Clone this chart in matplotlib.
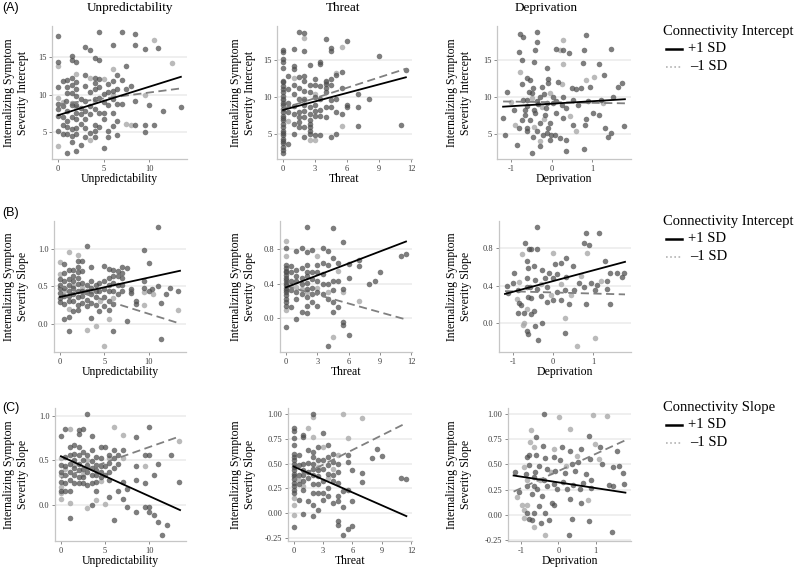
import matplotlib
matplotlib.use("Agg")
import matplotlib.pyplot as plt
from matplotlib.lines import Line2D
from matplotlib.ticker import FixedLocator, FormatStrFormatter

plt.rcParams["font.family"] = ["Liberation Serif", "DejaVu Serif"]
plt.rcParams["axes.unicode_minus"] = False

# ---------------------------------------------------------------------------
# data: (x, y) points, darker and lighter points, and
# the simple-slope lines (+1 SD solid, -1 SD dashed) as end points
# ---------------------------------------------------------------------------
COLUMNS = ["Unpredictability", "Threat", "Deprivation"]
ROW_LETTERS = ["(A)", "(B)", "(C)"]
ROW_YLABELS = ["Internalizing Symptom\nSeverity Intercept",
               "Internalizing Symptom\nSeverity Slope",
               "Internalizing Symptom\nSeverity Slope"]
LEGEND_TITLES = ["Connectivity Intercept", "Connectivity Intercept", "Connectivity Slope"]
LEGEND_LABELS = ["+1 SD", "\u20131 SD"]

# row A - intercept
A1_PTS = [(0, 17.85), (0, 14.4), (0, 11), (0, 8.7), (0, 8.1), (0, 7.2), (0, 5.2),
          (0.5, 11.8), (0.5, 8.5), (0.5, 7), (0.5, 6), (0.5, 4.7),
          (0.9, 9.2), (1, 12), (1, 11), (1, 10.2), (1, 7.8), (1, 6.5), (1, 5.7), (1, 4.8), (1, 2.2),
          (1.5, 15.2), (1.5, 14.6), (1.5, 12.3), (1.5, 11.3), (1.5, 10.2), (1.5, 8.6), (1.5, 7),
          (1.5, 5.4), (1.5, 4.5), (1.5, 3.7),
          (2, 14.4), (2, 11.7), (2, 10.8), (2, 9.8), (2, 8.6), (2, 7.6), (2, 6.7), (2, 5.6), (2, 4.7), (2, 2.5),
          (2.5, 9.4), (2.5, 8.2), (2.5, 7.4), (2.5, 6.1), (2.5, 3.2),
          (3, 16.4), (3, 12.6), (3, 11.2), (3, 9.1), (3, 7.8), (3, 6.7), (3, 5.5), (3, 4.4),
          (3.5, 16), (3.5, 10.3), (3.5, 8.5), (3.5, 7.4), (3.5, 4.9),
          (4, 14.9), (4, 12.3), (4, 11.6), (4, 10.8), (4, 9.4), (4, 8.1), (4, 6), (4, 5.2), (4, 4.4),
          (4.5, 18.4), (4.5, 14.6), (4.5, 12.1), (4.5, 11), (4.5, 9.6), (4.5, 7.6), (4.5, 5.7),
          (5, 10.1), (5, 9), (5, 7.6), (5, 6.7), (5, 2.8),
          (5.5, 11.4), (5.5, 10.3), (5.5, 8.6), (5.5, 5.2), (5.5, 4.4),
          (6, 16.6), (6, 11.9), (6, 10.5), (6, 9.4), (6, 7.6), (6, 5.8),
          (6.5, 12.6), (6.5, 10.8), (6.5, 8.7), (6.5, 6.5), (6.5, 4.6),
          (7, 18.4), (7, 12), (7, 8.7), (7.5, 13.9), (7.5, 10.8), (8, 11.2),
          (8.5, 18.2), (8.5, 16.6), (8.5, 9.2), (8.5, 6),
          (9.5, 16.1), (9.5, 5.9), (9.5, 5), (10, 8.6), (10.5, 5.9), (11, 16.2), (11.5, 7.8), (13.5, 8.3)]
A1_LIGHT = [(0, 13.8), (0, 9.6), (0, 3.1), (0.5, 9.0), (1.5, 8.9), (2, 12.8), (2, 8.3), (3.5, 12.3),
            (3.5, 3.9), (4, 9.2), (5, 12.1), (6, 13.4), (6, 10), (7.5, 6.1), (8, 6), (9.5, 9.9),
            (10.5, 17.3), (12.5, 14.3)]
A1_LINE_X = [0, 13.5]
A1_HI = [7.25, 12.4]
A1_LO = [8.7, 10.85]

A2_PTS = [(0, 16.4), (0, 16.1), (0, 15.1), (0, 14.7), (0, 14), (0, 12.2), (0, 12), (0, 11.5), (0, 11.1),
          (0, 10.7), (0, 10.2), (0, 9.8), (0, 9.3), (0, 9), (0, 8.4), (0, 8), (0, 7.5), (0, 7.2), (0, 6.9),
          (0, 6.4), (0, 6), (0, 5.5), (0, 5.2), (0, 4.9), (0, 4.4), (0, 4.1), (0, 3.8), (0, 3.3), (0, 2.9),
          (0, 2.5),
          (0.5, 12.9), (0.5, 11.1), (0.5, 9.3), (0.5, 8), (0.5, 3.7),
          (1, 16.5), (1, 14.2), (1, 13.8), (1, 11.7), (1, 10.4), (1, 8.8), (1, 7.8), (1, 6.4), (1, 5),
          (1.5, 18.8), (1.5, 12.7), (1.5, 11.3), (1.5, 9.8), (1.5, 8), (1.5, 7.3), (1.5, 6.7), (1.5, 6),
          (2, 18.7), (2, 16.3), (2, 12.9), (2, 12.2), (2, 10.9), (2, 9.8), (2, 8.9), (2, 8.2), (2, 7.3),
          (2, 6), (2, 4.6),
          (2.5, 14.3), (2.5, 11.7), (2.5, 10.7), (2.5, 8.7), (2.5, 7.8), (2.5, 6.9), (2.5, 6.4), (2.5, 6),
          (2.5, 5.5), (2.5, 5.1),
          (3, 12.5), (3, 11.6), (3, 10), (3, 8.9), (3, 8.2), (3, 7.5), (3, 4.9),
          (3.5, 14.8), (3.5, 14.5), (3.5, 11.5), (3.5, 9.8), (3.5, 8.3), (3.5, 7.5), (3.5, 4.9),
          (4, 17.8), (4, 12.2), (4, 11.8), (4, 11.2), (4, 10.7), (4, 8.7), (4, 7.3),
          (4.5, 16.6), (4.5, 16.3), (4.5, 12.5), (4.5, 11.7), (4.5, 9.6), (4.5, 8.7), (4.5, 4.7),
          (5, 13), (5, 9.8), (5, 8), (5, 5),
          (5.5, 13.4), (5.5, 11.3), (5.5, 7.8),
          (6, 17.6), (6, 9), (6, 8.7),
          (7, 10.4), (7, 8.7), (7, 6.2), (8, 9.8), (9, 15.6), (11, 6.3), (11.5, 13.7)]
A2_LIGHT = [(2, 18), (0, 9.6), (0.5, 6.8), (1, 12.6), (2, 9.5), (3, 10.5), (4, 12.0), (5, 13.3),
            (5.5, 16.8), (5.5, 6.2), (2.5, 4.2), (3, 4.2)]
A2_LINE_X = [0, 11.5]
A2_HI = [8.3, 12.7]
A2_LO = [8.5, 13.85]

A3_PTS = [(-1.19, 7.2), (-1.16, 4.9), (-1.1, 10.7), (-0.94, 8.3), (-0.86, 3.5), (-0.82, 5.8), (-0.82, 16),
          (-0.78, 18.5), (-0.7, 18.1), (-0.74, 14.9), (-0.74, 11.8), (-0.7, 9.6), (-0.66, 7.6), (-0.74, 6.9),
          (-0.6, 5.4), (-0.6, 12.5), (-0.57, 10.7),
          (-0.37, 18.7), (-0.37, 17.4), (-0.41, 16.3), (-0.43, 14.7), (-0.13, 13.9), (-0.09, 12.4),
          (-0.09, 11.9), (-0.54, 12.3), (-0.46, 11.2), (-0.29, 10), (0.03, 10), (-0.62, 9.6), (-0.37, 9.4),
          (-0.13, 9.2), (0.11, 9.4), (-0.66, 8.3), (-0.41, 7.8), (-0.17, 7.6), (0.11, 7.8), (-0.54, 6.9),
          (-0.29, 6.5), (-0.05, 6.5), (-0.62, 5.8), (-0.37, 5.4), (-0.13, 5.2), (0.07, 4.9), (-0.46, 4.7),
          (-0.21, 4.9), (-0.29, 3.4), (-0.5, 2.5),
          (-0.5, 10.5), (-0.35, 9.0), (-0.2, 10.4), (-0.6, 8.8), (-0.25, 11.3), (-0.45, 8.2), (-0.15, 8.5),
          (0.11, 16.4), (0.28, 16.3), (0.42, 15.9), (0.8, 16.3), (0.85, 18.3), (1.46, 16.4), (0.76, 14.6),
          (1.15, 14.4), (0.15, 12), (0.5, 11.2), (0.6, 11.1), (0.73, 11.2), (0.93, 11.4), (1.29, 12.9),
          (1.62, 11.4), (1.74, 11.9), (0.28, 10), (0.52, 9.6), (0.89, 9.4), (1.21, 9.6), (1.5, 10),
          (0.24, 8.9), (0.36, 8.5), (0.65, 8.9), (1.01, 7.8), (1.17, 7.6), (0.28, 7.2), (0.52, 6.3),
          (0.85, 7.1), (0.81, 6.3), (1.32, 5.8), (1.46, 5.2), (1.38, 4.7), (1.78, 6.1), (0.2, 4.5),
          (0.36, 4.2), (-0.05, 4.3), (-0.01, 4.9), (0.8, 3.0), (0.36, 2.7), (-0.09, 5.8), (0.03, 9.2)]
A3_LIGHT = [(-0.78, 13.4), (0.28, 17.7), (0.2, 16.3), (0.28, 14.4), (0.24, 11.8), (0.85, 12.3),
            (1.05, 12.7), (-0.5, 9.8), (-0.25, 8.7), (-0.05, 10.6), (-0.45, 6.0), (-0.2, 7.1), (0.45, 7.4),
            (1.25, 9.2), (-1.0, 9.3), (-0.9, 6.3), (0.6, 5.4), (-0.3, 4.1)]
A3_LINE_X = [-1.2, 1.8]
A3_HI = [8.7, 9.7]
A3_LO = [9.4, 9.15]

# row B - slope, connectivity intercept moderator
B1_PTS = [(0, 0.59), (0, 0.52), (0, 0.47), (0, 0.41), (0, 0.34), (0, 0.29),
          (0.5, 0.79), (0.5, 0.67), (0.5, 0.57), (0.5, 0.48), (0.5, 0.37), (0.5, 0.26), (0.5, 0.06),
          (1, 0.71), (1, 0.6), (1, 0.52), (1, 0.44), (1, 0.37), (1, 0.3), (1, 0.09), (1, -0.1),
          (1.5, 0.72), (1.5, 0.64), (1.5, 0.57), (1.5, 0.48), (1.5, 0.39), (1.5, 0.3), (1.5, 0.17),
          (2, 0.84), (2, 0.75), (2, 0.69), (2, 0.61), (2, 0.53), (2, 0.44), (2, 0.35), (2, 0.25), (2, 0.18),
          (2.5, 0.84), (2.5, 0.7), (2.5, 0.54), (2.5, 0.44), (2.5, 0.37), (2.5, 0.28),
          (3, 1.03), (3, 0.52), (3, 0.43), (3, 0.32), (3, 0.24),
          (3.5, 0.75), (3.5, 0.57), (3.5, 0.48), (3.5, 0.39), (3.5, 0.28), (3.5, 0.08),
          (4, 0.52), (4, 0.44), (4, 0.36), (4, 0.25),
          (4.4, 0.54), (4.4, 0.43), (4.4, 0.17),
          (5, 0.77), (5, 0.57), (5, 0.46), (5, 0.35), (5, 0.24),
          (5.5, 0.73), (5.5, 0.61), (5.5, 0.52), (5.5, 0.43), (5.5, 0.3), (5.5, 0.18),
          (6, 0.72), (6, 0.63), (6, 0.54), (6, 0.43), (6, 0.26), (6, -0.1),
          (6.5, 0.7), (6.5, 0.63), (6.5, 0.52), (6.5, 0.39),
          (7, 0.76), (7, 0.68), (7, 0.61), (7, 0.52), (7, 0.43),
          (7.5, 0.74), (7.5, 0.04), (8, 0.46), (8, 0.41), (8.5, 0.3), (8.5, 0.26),
          (9.5, 0.98), (9.5, 0.57), (9.5, 0.48), (10, 0.81), (10, 0.43), (10.4, 0.46), (11, 1.29),
          (11, 0.5), (11.4, 0.28), (11.4, -0.21), (11.9, 0.39), (12.4, 0.47), (13.3, 0.43)]
B1_LIGHT = [(0, 0.82), (0, 0.66), (1, 0.96), (1, 0.19), (2, 0.92), (3, -0.08), (4, -0.03), (5, -0.3),
            (5.5, 0.06), (9.5, 0.25), (13.3, 0.18), (0.5, 0.43), (1.5, 0.5), (2.5, 0.47), (3.5, 0.44),
            (4.5, 0.3), (6, 0.34), (8, 0.44), (9.5, 0.42), (10.5, 0.40)]
B1_LINE_X = [0, 13.5]
B1_HI = [0.355, 0.705]
B1_LO = [0.50, 0.0]

B2_PTS = [(0, 0.82), (0, 0.62), (0, 0.58), (0, 0.55), (0, 0.53), (0, 0.5), (0, 0.47), (0, 0.44), (0, 0.41),
          (0, 0.38), (0, 0.35), (0, 0.32), (0, 0.3), (0, 0.26), (0, 0.22), (0, 0.18), (0, 0.14), (0, -0.11),
          (0.5, 0.6), (0.5, 0.53), (0.5, 0.43), (0.5, 0.32), (0.5, 0.13),
          (1, 0.78), (1, 0.56), (1, 0.49), (1, 0.43), (1, 0.3), (1, 0.22), (1, -0.01),
          (1.5, 0.81), (1.5, 0.58), (1.5, 0.47), (1.5, 0.39), (1.5, 0.28), (1.5, 0.07),
          (2, 1.06), (2, 0.77), (2, 0.62), (2, 0.54), (2, 0.49), (2, 0.41), (2, 0.34), (2, 0.24), (2, 0.14),
          (2, 0.05),
          (2.5, 0.79), (2.5, 0.53), (2.5, 0.45), (2.5, 0.35), (2.5, 0.28), (2.5, 0.18),
          (3, 0.62), (3, 0.54), (3, 0.43), (3, 0.3), (3, 0.14),
          (3.5, 0.82), (3.5, 0.64), (3.5, 0.51), (3.5, 0.39), (3.5, 0.28),
          (4, 0.78), (4, 0.62), (4, 0.39), (4, 0.22), (4, -0.33),
          (4.5, 1.05), (4.5, 0.7), (4.5, 0.43), (4.5, 0.32), (4.5, 0.18), (4.5, 0.07),
          (5, 0.64), (5, 0.43), (5, 0.13),
          (5.5, 0.89), (5.5, 0.34), (5.5, -0.05), (5.5, -0.08),
          (6, 0.63), (6, 0.46), (6, -0.2),
          (7, 0.67), (7, 0.6), (8, 0.4), (8.5, 0.43), (9, 0.53), (11, 0.72), (11.5, 0.75)]
B2_LIGHT = [(0, 0.9), (0, 0.72), (0, 0.09), (0.5, 0.38), (1, 0.36), (1.5, 0.33), (2, 0.3), (3, 0.72),
            (3, 0.35), (4, 0.3), (4.5, -0.22), (5.5, 0.3), (7, 0.2), (5, 0.55)]
B2_LINE_X = [0, 11.5]
B2_HI = [0.355, 0.89]
B2_LO = [0.37, -0.02]

B3_PTS = [(-1.15, 0.4), (-1.13, 0.32), (-0.97, 0.53), (-1.0, 0.43), (-0.88, 0.35), (-0.84, 0.21),
          (-0.88, 0.1), (-0.63, -0.12), (-0.71, 0.86), (-0.63, 0.59), (-0.66, 0.48), (-0.58, 0.39),
          (-0.63, 0.28), (-0.56, 0.79),
          (-0.4, 1.03), (-0.6, 0.79), (-0.4, 0.79), (-0.64, 0.66), (-0.48, 0.61), (-0.28, 0.57),
          (-0.11, 0.53), (0.05, 0.63), (0.21, 0.64), (0.33, 0.7), (0.5, 0.61), (0.82, 0.97), (1.15, 0.97),
          (0.78, 0.86), (0.9, 0.84), (1.29, 0.66), (1.43, 0.53), (1.59, 0.53), (1.72, 0.49), (1.78, 0.53),
          (-0.44, 0.46), (-0.2, 0.48), (0.01, 0.48), (0.09, 0.52), (0.33, 0.49), (0.66, 0.43), (0.94, 0.43),
          (1.1, 0.41), (1.34, 0.45),
          (-0.64, 0.38), (-0.4, 0.36), (-0.15, 0.38), (0.09, 0.33), (0.29, 0.35), (0.53, 0.35), (0.78, 0.38),
          (1.06, 0.35), (1.34, 0.36),
          (-0.56, 0.27), (-0.31, 0.29), (-0.15, 0.22), (0.01, 0.24), (0.21, 0.25), (0.41, 0.2), (0.82, 0.2),
          (1.43, 0.2),
          (-0.8, 0.19), (-0.48, 0.13), (-0.72, 0.1), (-0.56, 0.09), (-0.28, 0.0), (-0.44, -0.03),
          (-0.64, -0.09), (0.29, -0.11), (-0.37, -0.18)]
B3_LIGHT = [(-0.76, -0.02), (-0.78, 0.74), (-0.66, 0.15), (-0.84, 0.44), (0.01, 0.75), (0.86, 0.75),
            (-0.72, 0.0), (0.29, 0.05), (1.06, -0.16), (0.59, -0.25), (-0.3, 0.42), (-0.05, 0.3), (0.2, 0.42),
            (0.45, 0.3), (0.7, 0.5), (1.2, 0.45), (-0.9, 0.26)]
B3_LINE_X = [-1.2, 1.8]
B3_HI = [0.31, 0.655]
B3_LO = [0.34, 0.305]

# row C - slope, connectivity slope moderator
C1_PTS = [(0, 0.45), (0, 0.77), (0, 0.37), (0, 0.26), (0, 0.16),
          (0.5, 0.85), (0.5, 0.54), (0.5, 0.43), (0.5, 0.33), (0.5, 0.24), (0.5, 0.15),
          (1, 0.65), (1, 0.56), (1, 0.46), (1, 0.37), (1, 0.28), (1, 0.15), (1, -0.15),
          (1.5, 0.67), (1.5, 0.57), (1.5, 0.5), (1.5, 0.41), (1.5, 0.33), (1.5, 0.25),
          (2, 0.84), (2, 0.8), (2, 0.65), (2, 0.56), (2, 0.46), (2, 0.39), (2, 0.31), (2, 0.24),
          (2.5, 0.85), (2.5, 0.59), (2.5, 0.5), (2.5, 0.4), (2.5, 0.31), (2.5, 0.24),
          (3, 1.02), (3, 0.56), (3, 0.45), (3, 0.37), (3, 0.22),
          (3.5, 0.77), (3.5, 0.61), (3.5, 0.49), (3.5, 0.41), (3.5, 0.33), (3.5, 0.24), (3.5, 0.0),
          (4, 0.54), (4, 0.45), (4, 0.39), (4, 0.33), (4, 0.26), (4, 0.15),
          (4.5, 0.65), (4.5, 0.52), (4.5, 0.44), (4.5, 0.37), (4.5, 0.31),
          (5, 0.65), (5, 0.44), (5, 0.33),
          (5.5, 0.56), (5.5, 0.47), (5.5, 0.37), (5.5, 0.28), (5.5, 0.09),
          (6, 0.61), (6, 0.52), (6, 0.41), (6, -0.17),
          (6.5, 0.56), (6.5, 0.46), (6.5, 0.16),
          (7, 0.61), (7, 0.26), (7, 0.06), (7.5, 0.18), (7.5, -0.03),
          (8.5, 0.44), (8.5, 0.76), (8.5, 0.28), (8.5, -0.08),
          (9.5, 0.56), (9.5, 0.24), (9.5, -0.03),
          (10, 0.87), (10, 0.56), (10, -0.03), (10, -0.08),
          (10.5, 0.33), (10.5, -0.12), (11, 0.46), (11, -0.19), (11.5, -0.34), (12, -0.23), (12.5, 0.56),
          (13.4, 0.26)]
C1_LIGHT = [(0, 0.52), (0, 0.33), (0, 0.2), (0, 0.13), (0, 0.07), (1, 0.85), (1, 0.02), (3, -0.04),
            (4, 0.05), (5, 0.01), (6, 0.87), (7, 0.78), (13.4, 0.72), (0.5, 0.40), (1.5, 0.45), (2.5, 0.35),
            (3, 0.50), (4.5, 0.27), (5.5, 0.52), (7, 0.53), (9.5, 0.43)]
C1_LINE_X = [0, 13.5]
C1_HI = [0.545, -0.06]
C1_LO = [0.30, 0.77]

C2_PTS = [(0, 0.86), (0, 0.83), (0, 0.76), (0, 0.69), (0, 0.6), (0, 0.57), (0, 0.54), (0, 0.5), (0, 0.47),
          (0, 0.44), (0, 0.4), (0, 0.37), (0, 0.34), (0, 0.3), (0, 0.27), (0, 0.23), (0, 0.2), (0, -0.14),
          (0.5, 0.59), (0.5, 0.49), (0.5, 0.39), (0.5, 0.29), (0.5, 0.13),
          (1, 0.79), (1, 0.77), (1, 0.5), (1, 0.44), (1, 0.39), (1, 0.32), (1, 0.23), (1, -0.01),
          (1.5, 0.64), (1.5, 0.51), (1.5, 0.42), (1.5, 0.35), (1.5, 0.12),
          (2, 1.0), (2, 0.62), (2, 0.57), (2, 0.5), (2, 0.45), (2, 0.39), (2, 0.29), (2, 0.2), (2, 0.08),
          (2, -0.03),
          (2.5, 0.67), (2.5, 0.54), (2.5, 0.44), (2.5, 0.37), (2.5, 0.29), (2.5, 0.2), (2.5, 0.03),
          (3, 0.81), (3, 0.54), (3, 0.45), (3, 0.32), (3, 0.2), (3, 0.13),
          (3.5, 0.69), (3.5, 0.57), (3.5, 0.49), (3.5, 0.4), (3.5, 0.25), (3.5, 0.17),
          (4, 0.6), (4, 0.52), (4, 0.39), (4, 0.32), (4, 0.1),
          (4.5, 0.5), (4.5, 0.42), (4.5, 0.3), (4.5, 0.17), (4.5, 0.12), (4.5, -0.08), (4.5, -0.12),
          (5, 0.22), (5, 0.06), (5, -0.22),
          (5.5, 0.59), (5.5, 0.52), (5.5, 0.23), (5.5, -0.16),
          (6, 0.44), (6, 0.12), (6, -0.13),
          (7, 0.41), (7, 0.31), (8, 0.56), (8.5, 0.65), (9, 0.58), (11, 0.35), (11.5, 0.34)]
C2_LIGHT = [(0, 0.15), (0, 0.08), (0, -0.02), (1.5, 0.86), (2, 0.97), (2, 0.77), (3, 0.67), (4.5, 0.59),
            (5, 1.0), (5.5, 0.76), (7, 0.96), (0.5, 0.33), (1, 0.27), (2.5, 0.47), (3.5, 0.35), (4, 0.45)]
C2_LINE_X = [0, 11.5]
C2_HI = [0.47, -0.03]
C2_LO = [0.34, 0.91]

C3_PTS = [(-1.15, 0.42), (-1.06, 0.23), (-0.79, 0.59), (-0.83, 0.02), (-0.7, -0.05), (-0.64, 0.29),
          (-0.62, 0.42),
          (-0.39, 1.0), (-0.61, 0.77), (0.81, 0.78), (-0.41, 0.68), (0.1, 0.67), (0.32, 0.63), (0.61, 0.65),
          (1.13, 0.67), (1.58, 0.63),
          (-0.83, 0.57), (-0.61, 0.59), (-0.35, 0.56), (-0.12, 0.57), (0.05, 0.54), (0.37, 0.5), (0.54, 0.52),
          (0.85, 0.55), (1.17, 0.5), (1.47, 0.47), (1.64, 0.48),
          (-0.79, 0.49), (-0.53, 0.48), (-0.3, 0.45), (-0.08, 0.43), (0.17, 0.41), (0.44, 0.43), (0.74, 0.4),
          (1.73, 0.41),
          (-0.88, 0.4), (-0.66, 0.38), (-0.39, 0.35), (-0.12, 0.31), (0.12, 0.33), (0.39, 0.3), (0.65, 0.32),
          (0.87, 0.35), (1.35, 0.3), (1.77, 0.31),
          (-0.83, 0.29), (-0.57, 0.26), (-0.3, 0.29), (-0.04, 0.26), (0.22, 0.26), (0.57, 0.26), (0.87, 0.27),
          (1.47, 0.29),
          (-0.7, 0.21), (-0.44, 0.19), (-0.17, 0.12), (-0.12, 0.1), (0.32, 0.16), (0.61, 0.12),
          (-0.53, 0.09), (-0.66, 0.02), (-0.35, 0.02), (-0.79, -0.04), (-0.26, -0.05), (0.36, -0.04),
          (0.81, -0.06), (-0.47, -0.08), (0.29, -0.2), (1.45, -0.17)]
C3_LIGHT = [(-1.1, 0.18), (-0.93, 0.47), (-0.97, 0.1), (-0.83, 0.35), (-0.75, 0.72), (-0.73, 0.84),
            (-0.93, 0.05), (0.01, 0.97), (0.94, 0.99), (1.31, 0.98), (0.32, 0.85), (-0.66, 0.67),
            (-0.12, 0.65), (0.99, 0.7), (0.79, 0.15), (-0.83, 0.1), (-0.92, -0.03), (-0.66, -0.12),
            (-0.35, -0.2), (-0.5, 0.35), (-0.2, 0.42), (0.2, 0.48), (0.5, 0.58), (1.1, 0.55)]
C3_LINE_X = [-1.2, 1.8]
C3_HI = [0.39, 0.22]
C3_LO = [0.23, 0.74]

# tick positions
X_TICKS = [[0, 5, 10], [0, 3, 6, 9, 12], [-1, 0, 1]]
Y_TICKS_A = [5, 10, 15]
Y_TICKS_B = [[0.0, 0.5, 1.0], [0.0, 0.4, 0.8], [0.0, 0.4, 0.8]]
Y_TICKS_C = [[0.0, 0.5, 1.0], [-0.25, 0.0, 0.25, 0.5, 0.75, 1.0], [-0.25, 0.0, 0.25, 0.5, 0.75, 1.0]]

# ---------------------------------------------------------------------------
# layout (pixels of the 800x568 output)
# ---------------------------------------------------------------------------
W, H = 800, 568
PANEL_BOX = [[(52, 26, 187, 159), (277, 26, 412, 159), (497, 26, 631, 159)],
             [(54, 221, 186, 352), (280, 221, 412, 352), (499, 221, 631, 352)],
             [(55, 408, 186, 541), (288, 408, 412, 541), (508, 408, 631, 541)]]
YLABEL_X = [16, 243, 459]
TITLE_X = [130, 343, 546]
LETTER_Y = [8, 213, 408]
LEGEND_Y = [32, 222, 408]

fig = plt.figure(figsize=(W / 100, H / 100), dpi=100)


def fx(x):
    return x / W


def fy(y):
    return 1 - y / H


def draw_panel(box, pts, light, line_x, hi, lo, xticks, yticks, yfmt):
    l, t, r, b = box
    ax = fig.add_axes([fx(l), fy(b), (r - l) / W, (b - t) / H])

    lx, ly = zip(*light)
    dx, dy = zip(*pts)
    ax.scatter(lx, ly, s=16, color="#a9a9a9", alpha=0.8, linewidths=0, zorder=2)
    ax.scatter(dx, dy, s=16, color="#4c4c4c", alpha=0.72, linewidths=0, zorder=2)

    # simple slopes
    ax.plot(line_x, lo, color="#808080", lw=1.3, ls=(0, (4.5, 2.5)), zorder=3)
    ax.plot(line_x, hi, color="black", lw=1.3, zorder=4)

    ax.xaxis.set_major_locator(FixedLocator(xticks))
    ax.yaxis.set_major_locator(FixedLocator(yticks))
    ax.yaxis.set_major_formatter(FormatStrFormatter(yfmt))

    ax.grid(axis="y", color="#ebebeb", lw=1.1, zorder=0)
    ax.set_axisbelow(True)
    for s in ["top", "right"]:
        ax.spines[s].set_visible(False)
    for s in ["left", "bottom"]:
        ax.spines[s].set_color("#c6c6c6")
        ax.spines[s].set_linewidth(0.9)
    ax.tick_params(length=2.5, width=0.7, color="#8c8c8c", labelsize=6,
                   labelcolor="#3c3c3c", pad=1.5)
    return ax


ROWS = [
    [(A1_PTS, A1_LIGHT, A1_LINE_X, A1_HI, A1_LO), (A2_PTS, A2_LIGHT, A2_LINE_X, A2_HI, A2_LO),
     (A3_PTS, A3_LIGHT, A3_LINE_X, A3_HI, A3_LO)],
    [(B1_PTS, B1_LIGHT, B1_LINE_X, B1_HI, B1_LO), (B2_PTS, B2_LIGHT, B2_LINE_X, B2_HI, B2_LO),
     (B3_PTS, B3_LIGHT, B3_LINE_X, B3_HI, B3_LO)],
    [(C1_PTS, C1_LIGHT, C1_LINE_X, C1_HI, C1_LO), (C2_PTS, C2_LIGHT, C2_LINE_X, C2_HI, C2_LO),
     (C3_PTS, C3_LIGHT, C3_LINE_X, C3_HI, C3_LO)],
]

for i, row in enumerate(ROWS):
    for j, (pts, light, line_x, hi, lo) in enumerate(row):
        if i == 0:
            yticks, yfmt = Y_TICKS_A, "%d"
        elif i == 1:
            yticks, yfmt = Y_TICKS_B[j], "%.1f"
        else:
            yticks = Y_TICKS_C[j]
            yfmt = "%.1f" if j == 0 else "%.2f"
        box = PANEL_BOX[i][j]
        draw_panel(box, pts, light, line_x, hi, lo, X_TICKS[j], yticks, yfmt)

        l, t, r, b = box
        # x axis title under each panel
        fig.text(fx((l + r) / 2), fy(b + 20), COLUMNS[j], ha="center", va="center", fontsize=8.5)
        # y axis title
        fig.text(fx(YLABEL_X[j]), fy((t + b) / 2), ROW_YLABELS[i], rotation=90,
                 ha="center", va="center", fontsize=8.5, linespacing=1.3)

    # panel letter
    fig.text(fx(2), fy(LETTER_Y[i]), ROW_LETTERS[i], ha="left", va="center",
             fontsize=9, family=["Liberation Sans", "DejaVu Sans"])

    # legend, drawn by hand
    ly = LEGEND_Y[i]
    fig.text(fx(663), fy(ly), LEGEND_TITLES[i], ha="left", va="center", fontsize=10.5)
    fig.add_artist(Line2D([fx(666), fx(682)], [fy(ly + 17)] * 2, color="black", lw=1.8,
                          transform=fig.transFigure))
    fig.add_artist(Line2D([fx(666), fx(682)], [fy(ly + 35)] * 2, color="#b3b3b3", lw=1.2,
                          ls=(0, (1, 1.5)), transform=fig.transFigure))
    fig.text(fx(688), fy(ly + 17), LEGEND_LABELS[0], ha="left", va="center", fontsize=10.5)
    fig.text(fx(690), fy(ly + 35), LEGEND_LABELS[1], ha="left", va="center", fontsize=10.5)

# column titles
for j, name in enumerate(COLUMNS):
    fig.text(fx(TITLE_X[j]), fy(8), name, ha="center", va="center", fontsize=9.5)

fig.savefig("out.png", dpi=100)
